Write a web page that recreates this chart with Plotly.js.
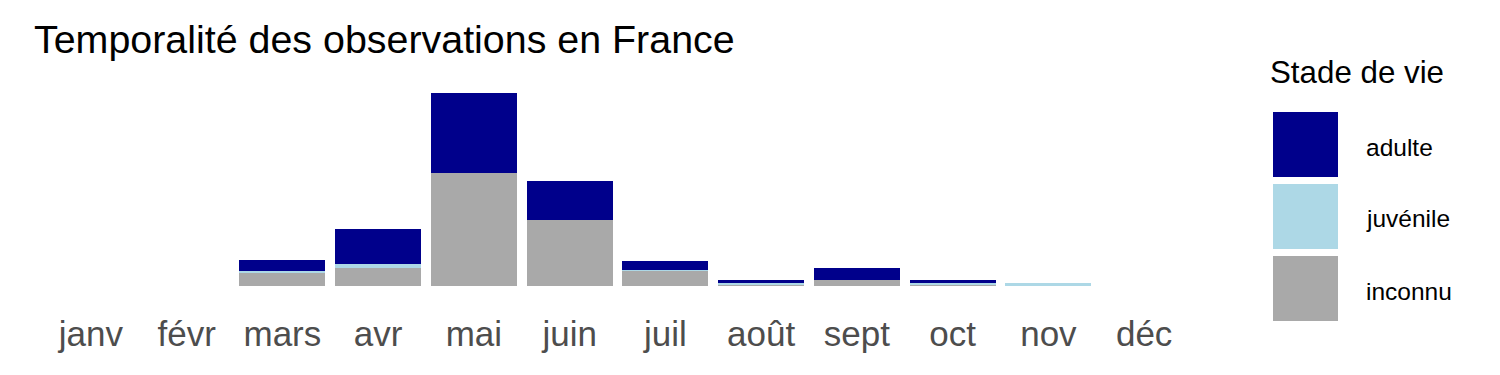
<!DOCTYPE html>
<html>
<head>
<meta charset="utf-8">
<script src="https://cdn.plot.ly/plotly-3.0.1.min.js"></script>
<style>html,body{margin:0;padding:0;background:#fff;}#chart{width:1500px;height:375px;}</style>
</head>
<body>
<div id="chart"></div>
<script>
const mois = ["janv","févr","mars","avr","mai","juin","juil","août","sept","oct","nov","déc"];
const inconnu  = [0, 0, 4.7, 6.5, 41.7, 24.3, 5.4, 0.4, 2.1, 0.2, 0, 0];
const juvenile = [0, 0, 0.7, 1.5, 0.3, 0,    0.7, 0.6, 0,   0.8, 1.0, 0];
const adulte   = [0, 0, 4.4, 13,  29.6, 14.4, 3.0, 1.1, 4.4, 1.1, 0, 0];
const seriesNames = ["adulte","juvénile","inconnu"];
const colors = {adulte:"#00008B", "juvénile":"#ADD8E6", inconnu:"#A9A9A9"};

const W = 1500, H = 375;
const mL = 43, mR = 308, mT = 84, mB = 89;
const pw = W - mL - mR, ph = H - mT - mB;
const px = x => (x - mL) / pw;
const py = y => (H - mB - y) / ph;

const FONT = "Liberation Sans, Arial, sans-serif";

const traces = [
  {name:"inconnu", y: inconnu},
  {name:"juvénile", y: juvenile},
  {name:"adulte", y: adulte}
].map(s => ({
  type:"bar", x: mois, y: s.y, name: s.name,
  marker:{color: colors[s.name], line:{width:0}},
  hoverinfo:"x+y+name", showlegend:false
}));

const shapes = [], annotations = [];
const keyTops = [112, 184, 256];
seriesNames.forEach((n, i) => {
  const t = keyTops[i];
  shapes.push({type:"rect", xref:"paper", yref:"paper",
    x0: px(1273), x1: px(1338), y0: py(t + 65), y1: py(t),
    fillcolor: colors[n], line:{width:0}});
  annotations.push({xref:"paper", yref:"paper", x: px(1364), y: py(t + 35),
    xanchor:"left", yanchor:"middle", showarrow:false, text:n,
    font:{family:FONT, size:24.5, color:"#000"}});
});
annotations.push({xref:"paper", yref:"paper", x: px(1268), y: py(73),
  xanchor:"left", yanchor:"middle", showarrow:false, text:"Stade de vie",
  font:{family:FONT, size:31.3, color:"#000"}});

const layout = {
  width: W, height: H,
  margin:{l:mL, r:mR, t:mT, b:mB, pad:0},
  paper_bgcolor:"#fff", plot_bgcolor:"#fff",
  barmode:"stack", bargap:0.1,
  title:{text:"Temporalité des observations en France", xref:"container", yref:"container",
    x: 34/W, xanchor:"left", y: 1 - 39/H, yanchor:"middle",
    font:{family:FONT, size:39.4, color:"#000"}},
  xaxis:{type:"category", categoryorder:"array", categoryarray: mois,
    range:[-0.5, 11.5], showgrid:false, zeroline:false, showline:false, ticks:"",
    tickfont:{family:FONT, size:35, color:"#4D4D4D"}, ticklabelstandoff: 24, fixedrange:true},
  yaxis:{range:[0, 74.8], showgrid:false, zeroline:false, showline:false,
    showticklabels:false, ticks:"", fixedrange:true},
  shapes, annotations, showlegend:false
};

Plotly.newPlot("chart", traces, layout, {displayModeBar:false, staticPlot:true});
</script>
</body>
</html>
